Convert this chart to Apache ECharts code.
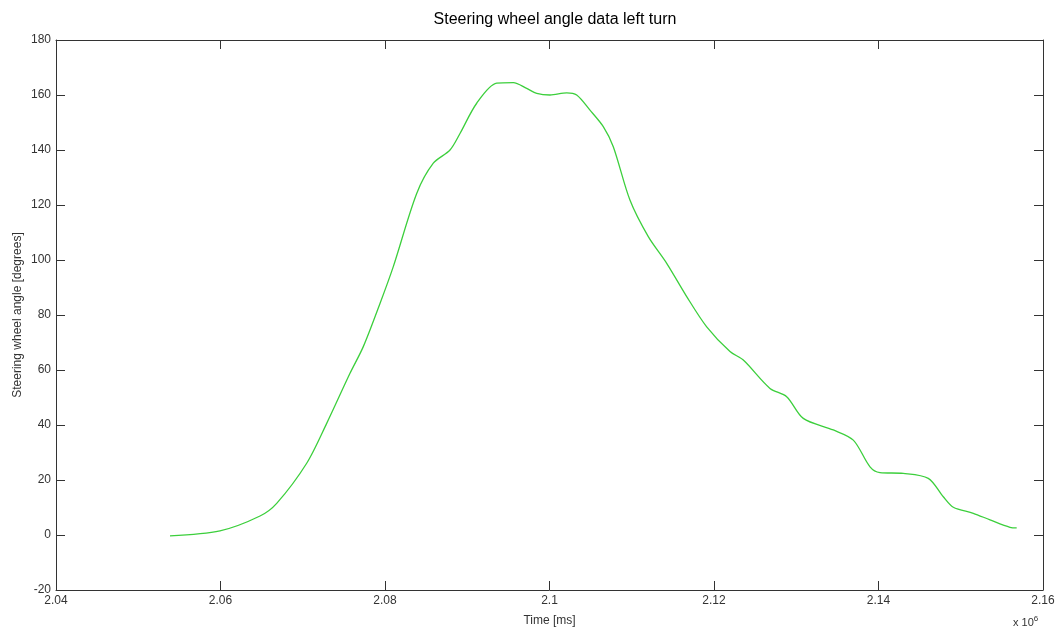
<!DOCTYPE html>
<html>
<head>
<meta charset="utf-8">
<script src="https://cdn.jsdelivr.net/npm/echarts@6/dist/echarts.min.js"></script>
<style>
html,body{margin:0;padding:0;background:#fff;}
#chart{width:1058px;height:632px;}
</style>
</head>
<body>
<div id="chart"></div>
<script>
var titleText = 'Steering wheel angle data left turn';
var xAxisName = 'Time [ms]';
var yAxisName = 'Steering wheel angle [degrees]';
var timeMs = [2053860, 2059939, 2064803, 2066833, 2070480, 2072912, 2075745, 2077362, 2079392, 2081009,
  2083854, 2085872, 2087903, 2089118, 2091148, 2093580, 2095598, 2097227, 2098443, 2100060,
  2102090, 2103306, 2104923, 2106540, 2107756, 2109779, 2112012, 2114249, 2116681, 2119113,
  2121945, 2123563, 2126805, 2128835, 2130855, 2134502, 2136935, 2138966, 2140181, 2143015,
  2146053, 2147878, 2149095, 2151526, 2153556, 2155988, 2156800];
var angleDeg = [-0.3, 1.5, 6.9, 11.5, 26.1, 40.6, 58.8, 68.5, 84.2, 97.6,
  124.2, 135.2, 140, 146, 157, 164.3, 164.5, 162.4, 160.6, 160,
  160.8, 160, 154.5, 148.5, 141.2, 121.8, 108.5, 98.8, 86.7, 75.7,
  66.7, 63.6, 53.3, 50.3, 42.4, 38.2, 34.5, 24.8, 22.7, 22.4,
  20.6, 13.9, 10.1, 7.9, 5.5, 2.8, 2.6];
var xMin = 2040000, xMax = 2160000, xStep = 20000;
var yMin = -20, yMax = 180, yStep = 20;

var data = timeMs.map(function (t, i) { return [t, angleDeg[i]]; });
var font = 'Liberation Sans, Arial, sans-serif';
var axisCol = '#333';
var chart = echarts.init(document.getElementById('chart'));
var tickStyle = { show: true, inside: true, length: 9, lineStyle: { color: axisCol, width: 1 } };
chart.setOption({
  animation: false,
  backgroundColor: '#fff',
  title: { text: titleText, left: 550, top: 7, textAlign: 'center',
    textStyle: { fontFamily: font, fontSize: 16, fontWeight: 'normal', color: '#000' } },
  grid: { left: 56, right: 15, top: 40, bottom: 42, outerBoundsMode: 'none', containLabel: false },
  xAxis: [{
    type: 'value', min: xMin, max: xMax, interval: xStep,
    name: xAxisName, nameLocation: 'middle', nameGap: 25, nameMoveOverlap: false,
    nameTextStyle: { fontFamily: font, fontSize: 12, color: '#333' },
    axisLine: { show: true, onZero: false, lineStyle: { color: axisCol, width: 1 } },
    axisTick: tickStyle,
    splitLine: { show: false },
    axisLabel: { fontFamily: font, fontSize: 12, color: '#333', margin: 5,
      formatter: function (v) { return String(+(v / 1e6).toFixed(2)); } }
  }, {
    type: 'value', position: 'top', min: xMin, max: xMax, interval: xStep,
    axisLine: { show: true, onZero: false, lineStyle: { color: axisCol, width: 1 } },
    axisTick: tickStyle, axisLabel: { show: false }, splitLine: { show: false }
  }],
  yAxis: [{
    type: 'value', min: yMin, max: yMax, interval: yStep,
    name: yAxisName, nameLocation: 'middle', nameGap: 32, nameRotate: 90, nameMoveOverlap: false,
    nameTextStyle: { fontFamily: font, fontSize: 12, color: '#333' },
    axisLine: { show: true, onZero: false, lineStyle: { color: axisCol, width: 1 } },
    axisTick: tickStyle,
    splitLine: { show: false },
    axisLabel: { fontFamily: font, fontSize: 12, color: '#333', margin: 5 }
  }, {
    type: 'value', position: 'right', min: yMin, max: yMax, interval: yStep,
    axisLine: { show: true, onZero: false, lineStyle: { color: axisCol, width: 1 } },
    axisTick: tickStyle, axisLabel: { show: false }, splitLine: { show: false }
  }],
  graphic: [{
    type: 'text', left: 1013, top: 615,
    style: { text: '{b|x 10}{s|6}', fontFamily: font,
      rich: { b: { fontSize: 11, fontFamily: font, fill: '#333' },
              s: { fontSize: 8, fontFamily: font, fill: '#333', verticalAlign: 'top', padding: [0, 0, 8, 0] } } }
  }],
  series: [{
    type: 'line', data: data, xAxisIndex: 0, yAxisIndex: 0,
    showSymbol: false, smooth: 0.3,
    lineStyle: { color: '#3ccf3c', width: 1.3 }
  }]
});
</script>
</body>
</html>
